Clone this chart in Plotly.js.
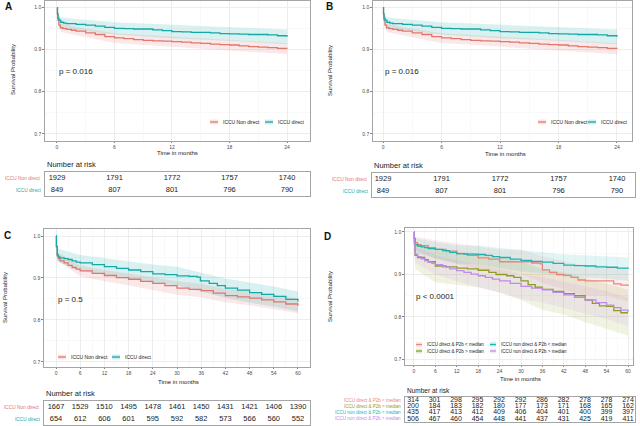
<!DOCTYPE html>
<html>
<head>
<meta charset="utf-8">
<script src="https://cdn.plot.ly/plotly-3.0.1.min.js"></script>
<style>
  html, body { margin: 0; padding: 0; background: #ffffff; }
  #chart { width: 640px; height: 426px; }
</style>
</head>
<body>
<div id="chart"></div>
<script>
// ---------------------------------------------------------------
// Kaplan-Meier survival, ICCU direct vs non-direct admission
// ---------------------------------------------------------------

// Panels A and B: 24-month follow-up
const groupsAB = ['ICCU Non direct', 'ICCU direct'];
const pValueAB = 'p = 0.016';

const monthsNonDirect24 = [0, 0.05, 0.1, 0.2, 0.35, 0.6, 1, 1.5, 2, 3, 4, 5, 6, 7, 8, 9, 10, 11, 12, 13, 14, 15, 16, 17, 18, 19, 20, 21, 22, 23, 24];
const survNonDirect24   = [1.0, 0.985, 0.970, 0.958, 0.952, 0.950, 0.948, 0.946, 0.944, 0.940, 0.936, 0.931, 0.928, 0.926, 0.924, 0.922, 0.921, 0.920, 0.919, 0.918, 0.916, 0.915, 0.913, 0.912, 0.911, 0.909, 0.907, 0.906, 0.905, 0.903, 0.902];
const monthsDirect24    = [0, 0.05, 0.1, 0.2, 0.4, 0.7, 1, 2, 3, 4, 5, 6, 7, 8, 9, 10, 11, 12, 13, 14, 15, 16, 17, 18, 19, 20, 21, 22, 23, 24];
const survDirect24      = [1.0, 0.985, 0.975, 0.970, 0.965, 0.963, 0.962, 0.960, 0.958, 0.956, 0.953, 0.9505, 0.950, 0.949, 0.949, 0.947, 0.945, 0.943, 0.942, 0.941, 0.941, 0.940, 0.938, 0.9376, 0.937, 0.936, 0.936, 0.935, 0.933, 0.9305];

const ciMonths24        = [0, 0.1, 0.4, 2, 6, 12, 18, 24];
const ciNonDirect24Hi   = [1.0, 0.978, 0.962, 0.954, 0.939, 0.931, 0.924, 0.915];
const ciNonDirect24Lo   = [1.0, 0.962, 0.942, 0.934, 0.916, 0.907, 0.898, 0.889];
const ciDirect24Hi      = [1.0, 0.986, 0.977, 0.973, 0.965, 0.959, 0.954, 0.948];
const ciDirect24Lo      = [1.0, 0.963, 0.952, 0.947, 0.936, 0.927, 0.921, 0.913];

const riskMonths24      = [0, 6, 12, 18, 24];
const riskNonDirect24   = [1929, 1791, 1772, 1757, 1740];
const riskDirect24      = [849, 807, 801, 796, 790];

// Panel C: 60-month follow-up
const groupsC = ['ICCU Non direct', 'ICCU direct'];
const pValueC = 'p = 0.5';

const monthsNonDirect60 = [0, 0.1, 0.3, 0.6, 1, 2, 3, 4, 5, 6, 9, 12, 15, 18, 21, 24, 27, 30, 33, 36, 39, 42, 45, 48, 51, 54, 57, 60];
const survNonDirect60   = [1.0, 0.975, 0.952, 0.946, 0.941, 0.936, 0.930, 0.925, 0.921, 0.917, 0.911, 0.906, 0.901, 0.897, 0.892, 0.887, 0.882, 0.876, 0.873, 0.870, 0.864, 0.858, 0.855, 0.852, 0.848, 0.843, 0.838, 0.834];
const monthsDirect60    = [0, 0.1, 0.3, 0.6, 1, 2, 3, 4, 5, 6, 9, 12, 15, 18, 21, 24, 27, 30, 33, 35, 35.8, 38, 40, 42, 45, 48, 51, 54, 57, 60];
const survDirect60      = [1.0, 0.975, 0.955, 0.950, 0.948, 0.946, 0.944, 0.941, 0.938, 0.936, 0.932, 0.927, 0.923, 0.919, 0.915, 0.910, 0.908, 0.905, 0.904, 0.902, 0.893, 0.887, 0.882, 0.876, 0.871, 0.865, 0.861, 0.856, 0.849, 0.844];

const ciMonths60        = [0, 0.3, 6, 12, 18, 24, 30, 36, 42, 48, 54, 60];
const ciNonDirect60Hi   = [1.0, 0.962, 0.930, 0.919, 0.911, 0.902, 0.892, 0.886, 0.874, 0.868, 0.860, 0.852];
const ciNonDirect60Lo   = [1.0, 0.942, 0.904, 0.892, 0.883, 0.872, 0.860, 0.854, 0.842, 0.835, 0.826, 0.816];
const ciDirect60Hi      = [1.0, 0.970, 0.955, 0.947, 0.940, 0.932, 0.927, 0.913, 0.899, 0.889, 0.880, 0.868];
const ciDirect60Lo      = [1.0, 0.938, 0.917, 0.907, 0.898, 0.888, 0.883, 0.867, 0.853, 0.841, 0.832, 0.820];

const riskMonths60      = [0, 6, 12, 18, 24, 30, 36, 42, 48, 54, 60];
const riskNonDirect60   = [1667, 1529, 1510, 1495, 1478, 1461, 1450, 1431, 1421, 1406, 1390];
const riskDirect60      = [654, 612, 606, 601, 595, 592, 582, 573, 566, 560, 552];

// Panel D: admission route x P2b level, 60-month follow-up
const groupsD = [
  'ICCU direct & P2b < median',
  'ICCU direct & P2b > median',
  'ICCU non direct & P2b < median',
  'ICCU non direct & P2b > median'
];
const pValueD = 'p < 0.0001';

const monthsDirectLow   = [0, 0.1, 0.3, 1, 2, 4, 6, 9, 12, 15, 18, 21, 24, 27, 30, 33, 35.5, 36, 38, 40, 42, 44, 46, 48, 51, 54, 56, 58, 60];
const survDirectLow     = [1.0, 0.985, 0.975, 0.970, 0.968, 0.963, 0.959, 0.955, 0.949, 0.945, 0.939, 0.936, 0.930, 0.930, 0.930, 0.927, 0.925, 0.911, 0.905, 0.900, 0.898, 0.893, 0.887, 0.885, 0.885, 0.885, 0.878, 0.875, 0.873];
const monthsDirectHigh  = [0, 0.1, 0.3, 1, 3, 4, 6, 9, 12, 15, 18, 21, 23, 26, 28, 30, 32, 34, 36, 39, 42, 45, 48, 50, 52, 54, 56, 58, 60];
const survDirectHigh    = [1.0, 0.975, 0.945, 0.940, 0.935, 0.930, 0.920, 0.918, 0.915, 0.913, 0.910, 0.905, 0.900, 0.897, 0.893, 0.885, 0.876, 0.870, 0.865, 0.860, 0.855, 0.850, 0.840, 0.832, 0.826, 0.825, 0.815, 0.810, 0.810];
const monthsNonDirLow   = [0, 0.1, 0.3, 1, 2, 3, 4, 6, 8, 10, 12, 14, 16, 18, 20, 22, 24, 27, 30, 33, 36, 39, 42, 45, 48, 51, 54, 57, 60];
const survNonDirLow     = [1.0, 0.985, 0.970, 0.967, 0.965, 0.963, 0.961, 0.959, 0.956, 0.952, 0.949, 0.948, 0.948, 0.947, 0.945, 0.942, 0.940, 0.936, 0.933, 0.931, 0.929, 0.926, 0.922, 0.921, 0.920, 0.918, 0.917, 0.915, 0.913];
const monthsNonDirHigh  = [0, 0.1, 0.3, 1, 2, 3, 4, 5, 6, 8, 10, 12, 14, 16, 18, 20, 22, 24, 27, 30, 33, 36, 39, 42, 45, 48, 51, 54, 56, 58, 60];
const survNonDirHigh    = [1.0, 0.975, 0.948, 0.942, 0.937, 0.932, 0.929, 0.926, 0.923, 0.918, 0.913, 0.909, 0.905, 0.901, 0.897, 0.893, 0.889, 0.885, 0.879, 0.872, 0.868, 0.864, 0.858, 0.852, 0.846, 0.840, 0.834, 0.828, 0.822, 0.816, 0.812];

const ciMonthsD         = [0, 0.3, 6, 12, 18, 24, 30, 36, 42, 48, 54, 60];
const ciDirectLowHi     = [1.0, 0.990, 0.981, 0.974, 0.966, 0.959, 0.959, 0.943, 0.932, 0.921, 0.921, 0.911];
const ciDirectLowLo     = [1.0, 0.957, 0.937, 0.925, 0.913, 0.902, 0.902, 0.880, 0.865, 0.850, 0.850, 0.836];
const ciDirectHighHi    = [1.0, 0.975, 0.958, 0.954, 0.950, 0.942, 0.930, 0.913, 0.904, 0.892, 0.878, 0.864];
const ciDirectHighLo    = [1.0, 0.913, 0.882, 0.876, 0.870, 0.858, 0.840, 0.817, 0.806, 0.788, 0.772, 0.756];
const ciNonDirLowHi     = [1.0, 0.985, 0.977, 0.969, 0.968, 0.962, 0.957, 0.953, 0.947, 0.945, 0.943, 0.940];
const ciNonDirLowLo     = [1.0, 0.953, 0.938, 0.926, 0.924, 0.915, 0.907, 0.903, 0.895, 0.893, 0.890, 0.885];
const ciNonDirHighHi    = [1.0, 0.966, 0.946, 0.934, 0.924, 0.913, 0.901, 0.894, 0.883, 0.872, 0.861, 0.846];
const ciNonDirHighLo    = [1.0, 0.929, 0.900, 0.884, 0.870, 0.857, 0.843, 0.834, 0.821, 0.808, 0.795, 0.778];

const riskMonthsD       = [0, 6, 12, 18, 24, 30, 36, 42, 48, 54, 60];
const riskDirectLow     = [314, 301, 298, 295, 292, 292, 286, 282, 278, 278, 274];
const riskDirectHigh    = [200, 184, 183, 182, 180, 177, 173, 171, 168, 165, 162];
const riskNonDirLow     = [435, 417, 413, 412, 409, 406, 404, 401, 400, 399, 397];
const riskNonDirHigh    = [506, 467, 460, 454, 448, 441, 437, 431, 425, 419, 411];

// ---------------------------------------------------------------
// drawing helpers
// ---------------------------------------------------------------
const W = 640, H = 426;
const px = v => v / W;            // pixel column -> paper x
const py = v => 1 - v / H;        // pixel row    -> paper y
const FONT = '"Liberation Sans", Arial, sans-serif';
const INK = '#1a1a1a';
const TICK = '#4d4d4d';

const RED = '#E0776D', TEAL = '#16A8A5';
const D_COLORS = ['#E8867C', '#8E9C22', '#1DB3B3', '#BE8BE8'];

function rgba(hex, a) {
  const n = parseInt(hex.slice(1), 16);
  return `rgba(${n >> 16},${(n >> 8) & 255},${n & 255},${a})`;
}

const traces = [];
const annotations = [];
const shapes = [];
const layout = {
  width: W, height: H,
  margin: { l: 0, r: 0, t: 0, b: 0, pad: 0 },
  paper_bgcolor: '#ffffff', plot_bgcolor: '#ffffff',
  showlegend: false,
  font: { family: FONT, color: INK },
  annotations, shapes
};

const sfx = id => (id === 1 ? '' : String(id));

function note(text, x, y, opts = {}) {
  annotations.push(Object.assign({
    text, x: px(x), y: py(y), xref: 'paper', yref: 'paper',
    showarrow: false, xanchor: 'center', yanchor: 'middle',
    font: { family: FONT, size: 6, color: INK }
  }, opts));
}

// one survival panel: grid box, step curves and confidence ribbons
function survivalPanel(id, box, xRange, yRange, xStep, groups, pText, ciAlpha) {
  const s = sfx(id);
  layout['xaxis' + s] = {
    domain: [px(box.x0), px(box.x1)], range: xRange, anchor: 'y' + s,
    tick0: 0, dtick: xStep, ticks: 'outside', ticklen: 1.5, tickwidth: 0.7, tickcolor: TICK,
    tickfont: { family: FONT, size: 5, color: TICK },
    showgrid: true, gridcolor: '#e9e9e9', gridwidth: 0.8,
    minor: { tick0: 0, dtick: xStep / 2, showgrid: true, gridcolor: '#f4f4f4', gridwidth: 0.5 },
    showline: true, mirror: true, linecolor: '#8f8f8f', linewidth: 0.8,
    zeroline: false, fixedrange: true
  };
  layout['yaxis' + s] = {
    domain: [py(box.y1), py(box.y0)], range: yRange, anchor: 'x' + s,
    tick0: 0.7, dtick: 0.1, tickformat: '.1f',
    ticks: 'outside', ticklen: 2, tickwidth: 0.7, tickcolor: TICK,
    tickfont: { family: FONT, size: 5, color: TICK },
    showgrid: true, gridcolor: '#e9e9e9', gridwidth: 0.8,
    minor: { tick0: 0.7, dtick: 0.05, showgrid: true, gridcolor: '#f4f4f4', gridwidth: 0.5 },
    showline: true, mirror: true, linecolor: '#8f8f8f', linewidth: 0.8,
    zeroline: false, fixedrange: true
  };
  groups.forEach(g => {
    traces.push({
      type: 'scatter', mode: 'lines', xaxis: 'x' + s, yaxis: 'y' + s,
      x: g.ciT.concat(g.ciT.slice().reverse()),
      y: g.hi.concat(g.lo.slice().reverse()),
      fill: 'toself', fillcolor: rgba(g.color, ciAlpha),
      line: { width: 0 }, hoverinfo: 'skip', showlegend: false
    });
  });
  groups.forEach(g => {
    traces.push({
      type: 'scatter', mode: 'lines', name: g.name, xaxis: 'x' + s, yaxis: 'y' + s,
      x: g.t, y: g.s, line: { color: g.color, width: 1.3, shape: 'hv' }
    });
  });
  annotations.push({
    text: pText, xref: 'x' + s, yref: 'y' + s, x: 0, y: 0.848,
    xanchor: 'left', yanchor: 'middle', showarrow: false,
    font: { family: FONT, size: 8, color: INK }
  });
}

// number-at-risk table under a panel
function riskTable(id, box, xRange, months, groups, numSize, labelSize) {
  const s = sfx(id);
  const n = groups.length;
  layout['xaxis' + s] = {
    domain: [px(box.x0), px(box.x1)], range: xRange, anchor: 'y' + s,
    showgrid: false, zeroline: false, showticklabels: false, ticks: '',
    showline: true, mirror: true, linecolor: '#8f8f8f', linewidth: 0.8, fixedrange: true
  };
  layout['yaxis' + s] = {
    domain: [py(box.y1), py(box.y0)], range: [0, n], anchor: 'x' + s,
    showgrid: false, zeroline: false, showticklabels: false, ticks: '',
    showline: true, mirror: true, linecolor: '#8f8f8f', linewidth: 0.8, fixedrange: true
  };
  groups.forEach((g, i) => {
    const row = n - i - 0.5;
    traces.push({
      type: 'scatter', mode: 'text', xaxis: 'x' + s, yaxis: 'y' + s,
      x: months, y: months.map(() => row), text: g.risk.map(String),
      textposition: 'middle center', cliponaxis: false, hoverinfo: 'skip',
      textfont: { family: FONT, size: numSize, color: INK }
    });
    annotations.push({
      text: g.name, xref: 'paper', yref: 'y' + s, x: px(box.x0 - 2), y: row,
      xanchor: 'right', yanchor: 'middle', showarrow: false,
      font: { family: FONT, size: labelSize, color: g.color }
    });
  });
}

// legend entry: shaded key with a line, then the group name
function legendEntry(g, x, y, keyW, size, alpha) {
  shapes.push({
    type: 'rect', xref: 'paper', yref: 'paper',
    x0: px(x), x1: px(x + keyW), y0: py(y + 2.5), y1: py(y - 2.5),
    fillcolor: rgba(g.color, alpha), line: { width: 0 }, layer: 'above'
  });
  shapes.push({
    type: 'line', xref: 'paper', yref: 'paper',
    x0: px(x), x1: px(x + keyW), y0: py(y), y1: py(y),
    line: { color: g.color, width: 1.3 }, layer: 'above'
  });
  note(g.name, x + keyW + 3, y, { xanchor: 'left', font: { family: FONT, size: size, color: INK } });
}

// ---------------------------------------------------------------
// assemble the four panels
// ---------------------------------------------------------------
const ab = [
  { name: groupsAB[0], color: RED,  t: monthsNonDirect24, s: survNonDirect24, ciT: ciMonths24, hi: ciNonDirect24Hi, lo: ciNonDirect24Lo, risk: riskNonDirect24 },
  { name: groupsAB[1], color: TEAL, t: monthsDirect24,    s: survDirect24,    ciT: ciMonths24, hi: ciDirect24Hi,    lo: ciDirect24Lo,    risk: riskDirect24 }
];
const c = [
  { name: groupsC[0], color: RED,  t: monthsNonDirect60, s: survNonDirect60, ciT: ciMonths60, hi: ciNonDirect60Hi, lo: ciNonDirect60Lo, risk: riskNonDirect60 },
  { name: groupsC[1], color: TEAL, t: monthsDirect60,    s: survDirect60,    ciT: ciMonths60, hi: ciDirect60Hi,    lo: ciDirect60Lo,    risk: riskDirect60 }
];
const d = [
  { name: groupsD[0], color: D_COLORS[0], t: monthsDirectLow,  s: survDirectLow,  ciT: ciMonthsD, hi: ciDirectLowHi,  lo: ciDirectLowLo,  risk: riskDirectLow },
  { name: groupsD[1], color: D_COLORS[1], t: monthsDirectHigh, s: survDirectHigh, ciT: ciMonthsD, hi: ciDirectHighHi, lo: ciDirectHighLo, risk: riskDirectHigh },
  { name: groupsD[2], color: D_COLORS[2], t: monthsNonDirLow,  s: survNonDirLow,  ciT: ciMonthsD, hi: ciNonDirLowHi,  lo: ciNonDirLowLo,  risk: riskNonDirLow },
  { name: groupsD[3], color: D_COLORS[3], t: monthsNonDirHigh, s: survNonDirHigh, ciT: ciMonthsD, hi: ciNonDirHighHi, lo: ciNonDirHighLo, risk: riskNonDirHigh }
];

// Panel A
survivalPanel(1, { x0: 45, x1: 310, y0: 0.5, y1: 141 }, [-1.25, 26.4], [0.683, 1.0167], 6, ab, pValueAB, 0.16);
riskTable(5, { x0: 45, x1: 310, y0: 172, y1: 196 }, [-1.25, 26.4], riskMonths24, ab, 7.5, 4.8);
note('A', 8.5, 6.5, { font: { family: FONT, size: 10, color: '#111', weight: 'bold' } });
note('Time in months', 177, 153.5);
note('Survival Probability', 13, 70, { textangle: -90 });
note('Number at risk', 45, 164, { xanchor: 'left', font: { family: FONT, size: 7.5, color: INK } });
legendEntry(ab[0], 210, 122, 8, 5, 0.2);
legendEntry(ab[1], 265, 122, 8, 5, 0.2);

// Panel B
survivalPanel(2, { x0: 373, x1: 632, y0: 0.5, y1: 141 }, [-1.03, 25.54], [0.683, 1.0167], 6, ab, pValueAB, 0.16);
riskTable(6, { x0: 372, x1: 635, y0: 173, y1: 197 }, [-1.13, 25.85], riskMonths24, ab, 7.5, 4.8);
note('B', 329, 6.5, { font: { family: FONT, size: 10, color: '#111', weight: 'bold' } });
note('Time in months', 505, 154);
note('Survival Probability', 330, 71, { textangle: -90 });
note('Number at risk', 372, 165.5, { xanchor: 'left', font: { family: FONT, size: 7.5, color: INK } });
legendEntry(ab[0], 538, 122, 8, 5, 0.2);
legendEntry(ab[1], 588, 122, 8, 5, 0.2);

// Panel C
survivalPanel(3, { x0: 44, x1: 310, y0: 229, y1: 367 }, [-2.98, 62.98], [0.688, 1.0167], 6, c, pValueC, 0.16);
riskTable(7, { x0: 44, x1: 310, y0: 401, y1: 425 }, [-2.98, 62.98], riskMonths60, c, 7.5, 4.8);
note('C', 7, 235, { font: { family: FONT, size: 10, color: '#111', weight: 'bold' } });
note('Time in months', 178, 381.5);
note('Survival Probability', 5, 298, { textangle: -90 });
note('Number at risk', 44, 393, { xanchor: 'left', font: { family: FONT, size: 7.5, color: INK } });
legendEntry(c[0], 58, 357, 8, 5, 0.2);
legendEntry(c[1], 112, 357, 8, 5, 0.2);

// Panel D
survivalPanel(4, { x0: 405, x1: 633, y0: 228, y1: 365 }, [-2.52, 61.4], [0.687, 1.0094], 6, d, pValueD, 0.13);
riskTable(8, { x0: 405, x1: 635, y0: 397, y1: 422 }, [-2.23, 61.95], riskMonthsD, d, 7, 4.5);
note('D', 327, 236, { font: { family: FONT, size: 10, color: '#111', weight: 'bold' } });
note('Time in months', 520, 379);
note('Survival Probability', 330, 297, { textangle: -90 });
note('Number at risk', 405, 390.5, { xanchor: 'left', font: { family: FONT, size: 6.5, color: INK } });
legendEntry(d[0], 416, 344.5, 6, 4.5, 0.2);
legendEntry(d[1], 416, 351, 6, 4.5, 0.2);
legendEntry(d[2], 490, 344.5, 6, 4.5, 0.2);
legendEntry(d[3], 490, 351, 6, 4.5, 0.2);

Plotly.newPlot('chart', traces, layout, { staticPlot: true, displayModeBar: false });
</script>
</body>
</html>
